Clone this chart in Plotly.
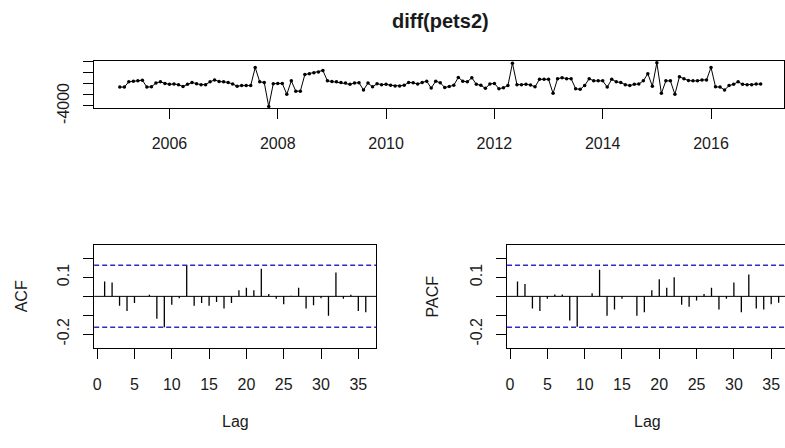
import plotly.graph_objects as go

# ---------------------------------------------------------------------------
# data
# ---------------------------------------------------------------------------
start_year = 2005
start_month = 2          # first differenced observation (Feb 2005), monthly

pets2_diff = [
    -580, -580, 390, 500, 560, 670, -580, -530, 160, 380, 100, -70,
    -10, -130, -470, -70, 270, 40, -130, -130, 380, 730, 440, 380,
    270, -10, -410, -300, -300, -300, 3000, 380, 270, -4120, 40, 100,
    100, -1900, 560, -1320, -1320, 1700, 1870, 2040, 2150, 2440, 560, 440,
    380, 270, 160, -70, 160, 210, -1100, 160, -530, 40, -130, -70,
    -240, -360, -360, -240, 270, 210, -10, 270, 500, -760, 500, 210,
    -640, -470, -240, 1180, 500, 380, 1130, -70, -240, -810, -10, 100,
    -870, -700, -300, 3780, -130, -130, -70, -190, -530, 840, 840, 840,
    -1720, 960, 1130, 960, 960, -870, -980, -300, 960, 560, 560, 560,
    -580, 840, 380, 270, -130, -300, -70, -10, 560, 1870, -410, 3850,
    -1720, 560, 560, -1900, 1300, 960, 610, 560, 560, 730, 730, 3000,
    -530, -580, -1100, -300, -70, 380, -70, -130, -130, -10, -10,
]

lags = list(range(1, 37))
acf_vals = [
    0.079, 0.074, -0.050, -0.077, -0.035, 0.002, 0.008, -0.118, -0.163,
    -0.044, -0.010, 0.166, -0.050, -0.035, -0.050, -0.030, -0.064, -0.035,
    0.032, 0.045, 0.032, 0.146, 0.012, -0.013, -0.042, 0.003, 0.045,
    -0.064, -0.047, -0.010, -0.103, 0.126, -0.013, 0.008, -0.077, -0.084,
]
pacf_vals = [
    0.079, 0.066, -0.064, -0.077, -0.013, 0.010, 0.010, -0.128, -0.161,
    0.001, 0.017, 0.141, -0.103, -0.069, -0.013, 0.001, -0.103, -0.084,
    0.032, 0.091, 0.045, 0.101, -0.044, -0.055, -0.022, 0.012, 0.045,
    -0.069, -0.013, 0.074, -0.084, 0.116, -0.064, -0.069, -0.042, -0.034,
]

year_ticks = [2006, 2008, 2010, 2012, 2014, 2016]
level_ticks = [-4000, -2000, 0, 2000, 4000]
level_labels = ["-4000", "", "", "", ""]
lag_ticks = [0, 5, 10, 15, 20, 25, 30, 35]
corr_ticks = [-0.2, -0.1, 0.0, 0.1, 0.2]
corr_labels = ["-0.2", "", "", "0.1", ""]

# ---------------------------------------------------------------------------
# geometry helpers (pixel -> paper fraction)
# ---------------------------------------------------------------------------
W, H = 785, 448


def fx(p):
    return p / W


def fy(p):
    return 1 - p / H


FONT = "Liberation Sans, Arial, sans-serif"
INK = "#1a1a1a"
CI_BLUE = "#2b2bc4"

times = [start_year + (start_month - 1) / 12 + i / 12 for i in range(len(pets2_diff))]
n = len(pets2_diff)
ci = 1.96 / n ** 0.5

# R-style 4% padding on the data range
t_lo, t_hi = min(times), max(times)
t_pad = 0.04 * (t_hi - t_lo)
v_lo, v_hi = min(pets2_diff), max(pets2_diff)
v_pad = 0.04 * (v_hi - v_lo)

# plot-area pixel boxes
top_box = dict(x0=93.3, x1=784.0, y0=63.3, y1=112.3)
acf_box = dict(x0=93.3, x1=375.7, y0=254.0, y1=360.7)
pacf_box = dict(x0=506.7, x1=785.0, y0=254.0, y1=360.7)

# top panel x range: padded span, cut at the right edge of the page
t_range_lo = t_lo - t_pad
full_w = 786.3 - top_box["x0"]
t_range_hi = t_range_lo + ((t_hi + t_pad) - t_range_lo) * (top_box["x1"] - top_box["x0"]) / full_w

lag_lo, lag_hi = min(lags), max(lags)
lag_pad = 0.04 * (lag_hi - lag_lo)
lag_range = [lag_lo - lag_pad, lag_hi + lag_pad]
acf_w = acf_box["x1"] - acf_box["x0"]
pacf_w = pacf_box["x1"] - pacf_box["x0"]
pacf_range = [lag_range[0], lag_range[0] + (lag_range[1] - lag_range[0]) * pacf_w / acf_w]
corr_range = [-0.272, 0.272]


def spikes(xs, ys):
    sx, sy = [], []
    for x, y in zip(xs, ys):
        sx += [x, x, None]
        sy += [0, y, None]
    return sx, sy


fig = go.Figure()

fig.add_trace(go.Scatter(
    x=times, y=pets2_diff, mode="lines+markers",
    line=dict(color="black", width=1),
    marker=dict(color="black", size=3.5),
    xaxis="x", yaxis="y", showlegend=False, hoverinfo="skip",
))

ax, ay = spikes(lags, acf_vals)
fig.add_trace(go.Scatter(
    x=ax, y=ay, mode="lines", line=dict(color="black", width=1.3),
    xaxis="x2", yaxis="y2", showlegend=False, hoverinfo="skip",
))

px_, py_ = spikes(lags, pacf_vals)
fig.add_trace(go.Scatter(
    x=px_, y=py_, mode="lines", line=dict(color="black", width=1.3),
    xaxis="x3", yaxis="y3", showlegend=False, hoverinfo="skip",
))

shapes = []
for xr, yr in (("x2", "y2"), ("x3", "y3")):
    shapes.append(dict(type="line", xref=f"{xr} domain", yref=yr, x0=0, x1=1, y0=0, y1=0,
                       line=dict(color="black", width=1)))
    for c in (ci, -ci):
        shapes.append(dict(type="line", xref=f"{xr} domain", yref=yr, x0=0, x1=1, y0=c, y1=c,
                           line=dict(color=CI_BLUE, width=1.5, dash="5px,3px")))

common = dict(
    showline=True, linecolor="black", linewidth=1,
    ticks="outside", ticklen=10, tickwidth=1, tickcolor="black",
    showgrid=False, zeroline=False,
    tickfont=dict(family=FONT, size=16, color=INK),
)

fig.update_layout(
    width=W, height=H, autosize=False,
    margin=dict(l=0, r=0, t=0, b=0),
    paper_bgcolor="white", plot_bgcolor="white",
    font=dict(family=FONT, color=INK),
    shapes=shapes,
    xaxis=dict(domain=[fx(top_box["x0"]), fx(top_box["x1"])], anchor="y",
               range=[t_range_lo, t_range_hi], tickvals=year_ticks,
               ticktext=[str(y) for y in year_ticks], mirror=True,
               ticklabelstandoff=11, **common),
    yaxis=dict(domain=[fy(top_box["y1"]), fy(top_box["y0"])], anchor="x",
               range=[v_lo - v_pad, v_hi + v_pad], tickvals=level_ticks,
               ticktext=level_labels, tickangle=-90, mirror=True,
               ticklabelstandoff=8, **common),
    xaxis2=dict(domain=[fx(acf_box["x0"]), fx(acf_box["x1"])], anchor="y2",
                range=lag_range, tickvals=lag_ticks, mirror=True,
                ticklabelstandoff=12, **common),
    yaxis2=dict(domain=[fy(acf_box["y1"]), fy(acf_box["y0"])], anchor="x2",
                range=corr_range, tickvals=corr_ticks, ticktext=corr_labels,
                tickangle=-90, mirror=True, ticklabelstandoff=8, **common),
    xaxis3=dict(domain=[fx(pacf_box["x0"]), 1.0], anchor="y3",
                range=pacf_range, tickvals=lag_ticks, mirror=True,
                ticklabelstandoff=12, **common),
    yaxis3=dict(domain=[fy(pacf_box["y1"]), fy(pacf_box["y0"])], anchor="x3",
                range=corr_range, tickvals=corr_ticks, ticktext=corr_labels,
                tickangle=-90, mirror=False, ticklabelstandoff=8, **common),
)

annotations = [
    dict(text="<b>diff(pets2)</b>", x=fx(439.7), y=fy(21.7), size=20),
    dict(text="ACF", x=fx(20), y=fy(307.3), size=16, textangle=-90),
    dict(text="PACF", x=fx(431.7), y=fy(307.3), size=16, textangle=-90),
    dict(text="Lag", x=fx(234.5), y=fy(437), size=16),
    dict(text="Lag", x=fx(647.6), y=fy(437), size=16),
]
for a in annotations:
    fig.add_annotation(
        text=a["text"], x=a["x"], y=a["y"], xref="paper", yref="paper",
        xanchor="center", yanchor="middle", showarrow=False,
        textangle=a.get("textangle", 0),
        font=dict(family=FONT, size=a["size"], color=INK),
    )

fig.write_html("out.html")
